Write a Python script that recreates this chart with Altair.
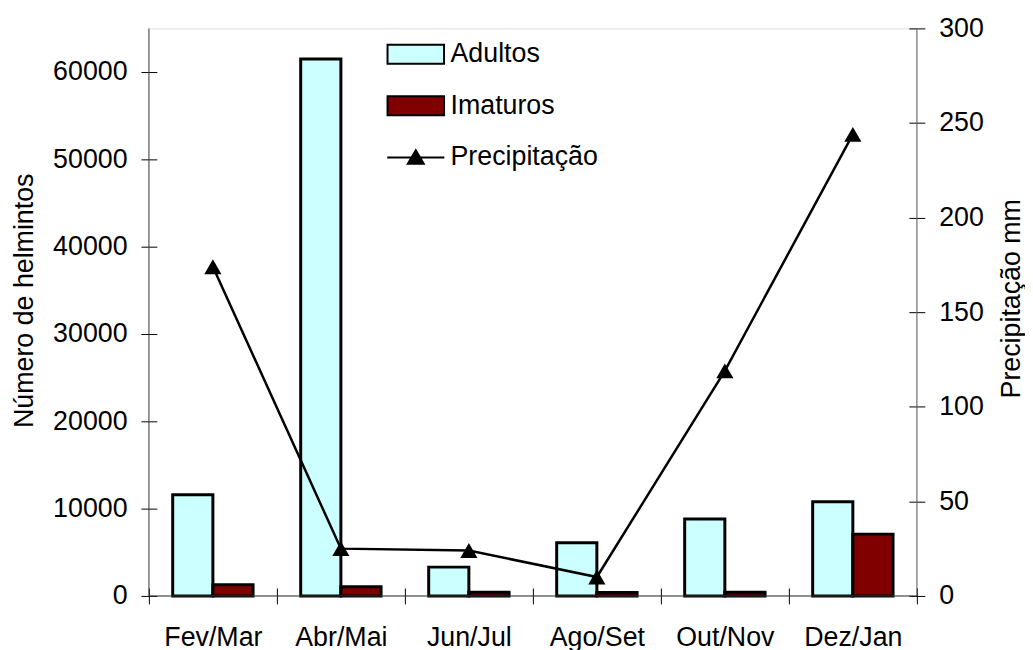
import altair as alt
import pandas as pd

categories = ["Fev/Mar", "Abr/Mai", "Jun/Jul", "Ago/Set", "Out/Nov", "Dez/Jan"]
adultos = [11600, 61500, 3300, 6100, 8800, 10800]
imaturos = [1270, 1050, 430, 400, 430, 7080]
precipitacao = [174, 25, 24, 10, 119, 244]

series_names = ["Adultos", "Imaturos", "Precipitação"]
series_colors = ["#CCFFFF", "#800000", "#000000"]
left_ticks = [0, 10000, 20000, 30000, 40000, 50000, 60000]
right_ticks = [0, 50, 100, 150, 200, 250, 300]

W, H = 774, 572
FONT = "Liberation Sans"
FS = 27

bars_df = pd.DataFrame({
    "cat": categories * 2,
    "serie": ["Adultos"] * len(categories) + ["Imaturos"] * len(categories),
    "valor": adultos + imaturos,
})
line_df = pd.DataFrame({"cat": categories, "precip": precipitacao})
legend_df = pd.DataFrame({"serie": series_names})
one_row = pd.DataFrame({"k": [0]})

x_axis = alt.Axis(
    title=None, labelAngle=0, tickBand="extent", offset=-8, tickSize=16,
    domain=False, labelPadding=21, labelOverlap=False, tickColor="black",
    labelFont=FONT, labelFontSize=FS, labelColor="black",
)
x_enc = alt.X("cat:N", sort=categories,
              scale=alt.Scale(paddingInner=0, paddingOuter=0), axis=x_axis)

rect_path = "M-3.56,-1.19H3.56V1.19H-3.56Z"
tri_path = "M-3.6,0H3.6M0,-0.9L1,0.8H-1Z"
legend_props = dict(
    orient="none", legendX=255.5, legendY=12.5, direction="vertical",
    title=None, symbolSize=256, symbolStrokeColor="black",
    symbolStrokeWidth=2, symbolOpacity=1, labelFont=FONT, labelFontSize=FS,
    labelColor="black", labelOffset=21.5, rowPadding=23, padding=0,
    labelBaseline="middle",
)
fill_scale = alt.Scale(domain=series_names, range=series_colors)

bars = alt.Chart(bars_df).mark_bar(stroke="black", strokeWidth=3).encode(
    x=x_enc,
    xOffset=alt.XOffset("serie:N", sort=series_names[:2],
                        scale=alt.Scale(paddingInner=0, paddingOuter=0.5926)),
    y=alt.Y("valor:Q",
            scale=alt.Scale(domain=[0, 65000], nice=False, zero=True),
            axis=alt.Axis(
                orient="left", values=left_ticks, format="d", offset=-8,
                tickSize=16, domain=False, labelPadding=14, tickColor="black",
                grid=False, labelFont=FONT, labelFontSize=FS, labelColor="black",
                title="Número de helmintos", titleFont=FONT, titleFontSize=FS,
                titleFontWeight="normal", titleColor="black", titleAngle=270,
                titleAlign="center", titleBaseline="alphabetic",
                titleX=-125, titleY=274,
            )),
    fill=alt.Fill("serie:N", scale=fill_scale,
                  legend=alt.Legend(**legend_props)),
)

line = alt.Chart(line_df).mark_line(
    color="black", strokeWidth=2.5,
    point=alt.OverlayMarkDef(shape="triangle-up", size=300, filled=True,
                             color="black", opacity=1),
).encode(
    x=x_enc,
    y=alt.Y("precip:Q",
            scale=alt.Scale(domain=[0, 300], nice=False, zero=True),
            axis=alt.Axis(
                orient="right", values=right_ticks, format="d", offset=-8,
                tickSize=16, domain=False, labelPadding=14, tickColor="black",
                grid=False, labelFont=FONT, labelFontSize=FS, labelColor="black",
                title="Precipitação mm", titleFont=FONT, titleFontSize=FS,
                titleFontWeight="normal", titleColor="black", titleAngle=270,
                titleAlign="center", titleBaseline="alphabetic",
                titleX=111, titleY=272,
            )),
)

legend_layer = alt.Chart(legend_df).mark_point(
    filled=True, strokeWidth=2, opacity=0
).encode(
    fill=alt.Fill("serie:N", scale=fill_scale,
                  legend=alt.Legend(**legend_props)),
    shape=alt.Shape("serie:N",
                    scale=alt.Scale(domain=series_names,
                                    range=[rect_path, rect_path, tri_path]),
                    legend=alt.Legend(**legend_props)),
    stroke=alt.Stroke("serie:N",
                      scale=alt.Scale(domain=series_names,
                                      range=["black", "black", "black"]),
                      legend=alt.Legend(**legend_props)),
)

rule_left = alt.Chart(one_row).mark_rule(color="#444", strokeWidth=1).encode(
    x=alt.value(0), y=alt.value(0), y2=alt.value(H))
rule_right = alt.Chart(one_row).mark_rule(color="#666", strokeWidth=1).encode(
    x=alt.value(W), y=alt.value(0), y2=alt.value(H))
rule_bottom = alt.Chart(one_row).mark_rule(color="#333", strokeWidth=1).encode(
    y=alt.value(H), x=alt.value(0), x2=alt.value(W))

chart = alt.layer(
    bars, line, rule_left, rule_right, rule_bottom, legend_layer
).resolve_scale(
    y="independent"
).properties(
    width=W, height=H,
    padding={"left": 142, "top": 18, "right": 109, "bottom": 62},
    autosize=alt.AutoSizeParams(type="none"),
    background="white",
).configure_view(
    strokeWidth=0
).configure(
    font=FONT
)

chart.save("out.html", embed_options={"renderer": "svg", "actions": False})
